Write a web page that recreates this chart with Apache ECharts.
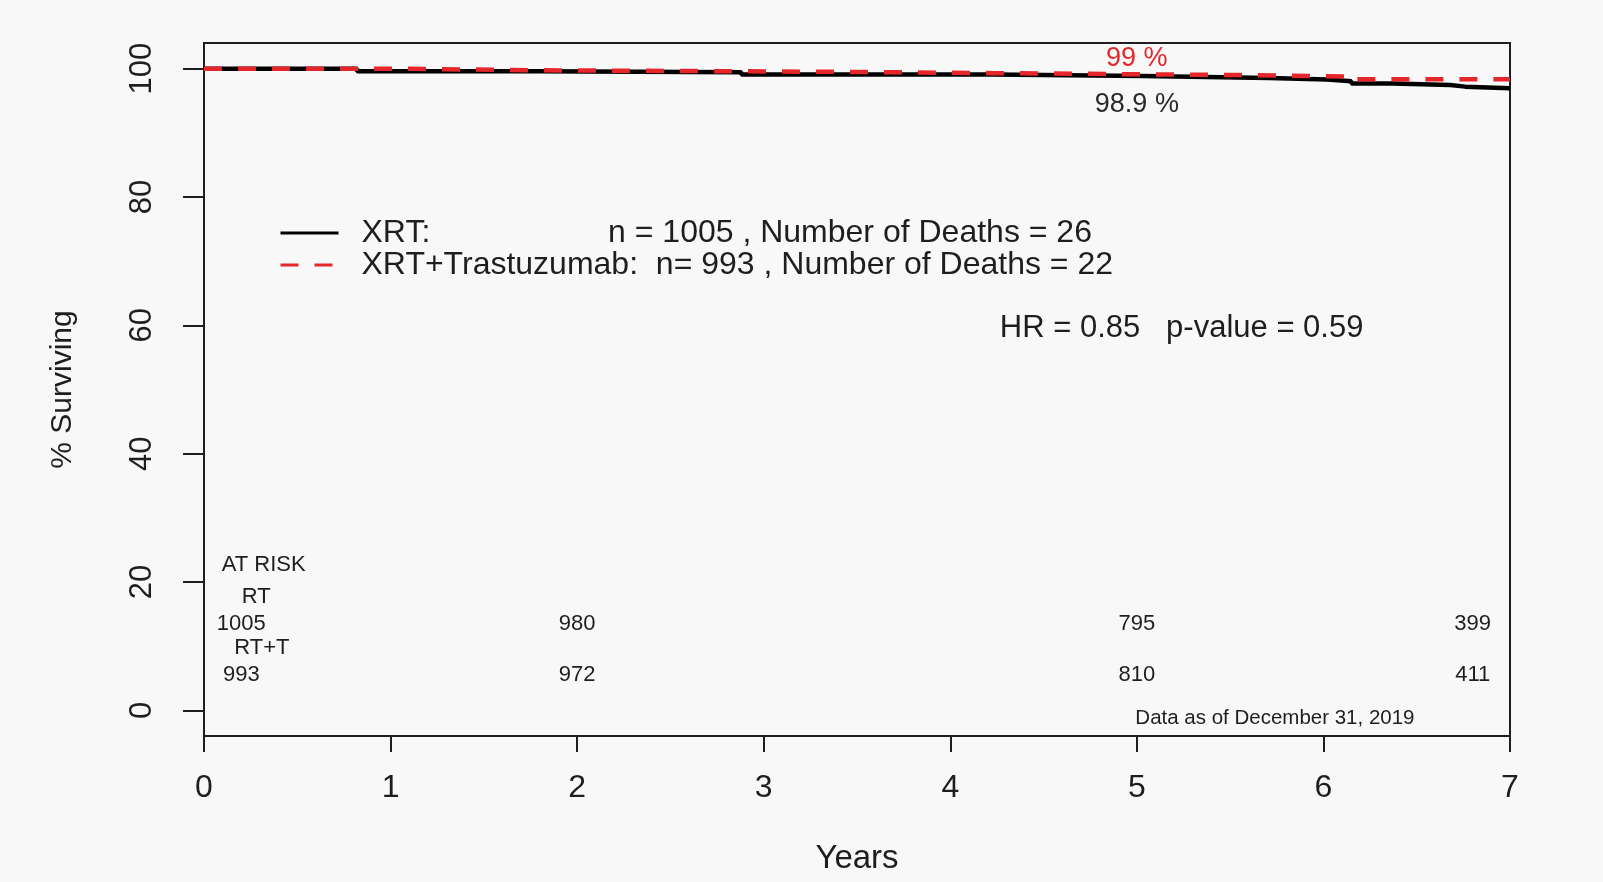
<!DOCTYPE html>
<html>
<head>
<meta charset="utf-8">
<title>Overall survival: XRT vs XRT+Trastuzumab</title>
<script src="https://cdn.jsdelivr.net/npm/echarts@6/dist/echarts.min.js"></script>
<style>
  html, body { margin: 0; padding: 0; background: #f8f8f8; }
  #chart { width: 1603px; height: 882px; }
</style>
</head>
<body>
<div id="chart"></div>
<script>
// Kaplan-Meier step points (years, % surviving)
const xrtYears  = [0, 0.82, 1.79, 2.88, 4.23, 5.03, 5.71, 6.02, 6.15, 6.37, 6.68, 6.76, 7];
const xrtSurv   = [100, 99.6, 99.45, 99.1, 98.85, 98.55, 98.3, 98.05, 97.7, 97.45, 97.2, 96.95, 96.95];
const xrttYears = [0, 1.0, 1.8, 3.45, 4.23, 5.6, 6.15, 7];
const xrttSurv  = [100, 99.75, 99.5, 99.3, 99.0, 98.75, 98.35, 98.35];

// Numbers at risk
const atRiskYears = [0.2, 2, 5, 6.8];
const atRiskRT    = [1005, 980, 795, 399];
const atRiskRTT   = [993, 972, 810, 411];

// Axis ticks
const yearTicks = [0, 1, 2, 3, 4, 5, 6, 7];
const survTicks = [0, 20, 40, 60, 80, 100];

// Legend and annotation text
const seriesNames = ['XRT', 'XRT+Trastuzumab'];
const legendText = [
  'XRT:                    n = 1005 , Number of Deaths = 26',
  'XRT+Trastuzumab:  n= 993 , Number of Deaths = 22'
];
const fiveYearRate = { xrt: 98.9, xrtt: 99 };
const statsText = 'HR = 0.85   p-value = 0.59';
const dataDate = 'Data as of December 31, 2019';

const FONT = '"Liberation Sans", Arial, sans-serif';
const INK = '#1e1e1e';
const RED = '#e5262b';

const pairs = (xs, ys) => xs.map((x, i) => [x, ys[i]]);

function textPoint(x, y, text, opts) {
  return {
    value: [x, y],
    label: Object.assign({
      show: true, position: 'inside', formatter: text,
      fontFamily: FONT, fontSize: 22, color: INK
    }, opts || {})
  };
}

const notes = [];
notes.push(textPoint(0.32, 22.6, 'AT RISK', { fontSize: 22 }));
notes.push(textPoint(0.28, 17.7, 'RT', { fontSize: 22 }));
notes.push(textPoint(0.31, 9.7, 'RT+T', { fontSize: 22 }));
atRiskYears.forEach((yr, i) => {
  notes.push(textPoint(yr, 13.5, String(atRiskRT[i])));
  notes.push(textPoint(yr, 5.5, String(atRiskRTT[i])));
});
notes.push(textPoint(5.74, -1.3, dataDate, { fontSize: 20.5 }));
notes.push(textPoint(5.24, 59.5, statsText, { fontSize: 31 }));
notes.push(textPoint(5, 101.5, fiveYearRate.xrtt + ' %', { fontSize: 27, color: RED }));
notes.push(textPoint(5, 94.4, fiveYearRate.xrt + ' %', { fontSize: 27, color: '#2a2a2a' }));

const chart = echarts.init(document.getElementById('chart'));
chart.setOption({
  backgroundColor: '#f8f8f8',
  animation: false,
  grid: {
    left: 204, right: 93, top: 43, bottom: 146,
    show: true, borderColor: '#1e1e1e', borderWidth: 2, backgroundColor: 'transparent'
  },
  legend: {
    orient: 'vertical',
    left: 274, top: 212,
    itemWidth: 58, itemHeight: 14, itemGap: 0,
    data: seriesNames,
    formatter: name => legendText[seriesNames.indexOf(name)],
    itemStyle: { color: 'transparent', borderWidth: 0 },
    lineStyle: { width: 3 },
    textStyle: { fontFamily: FONT, fontSize: 32, color: INK, lineHeight: 31, padding: [0, 0, 0, 18] }
  },
  xAxis: {
    type: 'value', min: 0, max: 7, interval: 1,
    name: 'Years', nameLocation: 'middle', nameGap: 106,
    nameTextStyle: { fontFamily: FONT, fontSize: 33, color: INK },
    axisLine: { onZero: false, lineStyle: { color: '#1e1e1e', width: 2 } },
    axisTick: { length: 16, lineStyle: { color: '#1e1e1e', width: 2 } },
    axisLabel: { margin: 36, fontFamily: FONT, fontSize: 32, color: INK,
                 formatter: v => yearTicks.includes(v) ? String(v) : '' },
    splitLine: { show: false }
  },
  yAxis: {
    type: 'value', min: -4, max: 104,
    name: '% Surviving', nameLocation: 'middle', nameGap: 126,
    nameTextStyle: { fontFamily: FONT, fontSize: 30, color: INK },
    axisLine: { lineStyle: { color: '#1e1e1e', width: 2 } },
    axisTick: { length: 21, customValues: survTicks, lineStyle: { color: '#1e1e1e', width: 2 } },
    axisLabel: { customValues: survTicks, rotate: 90, margin: 46,
                 fontFamily: FONT, fontSize: 31, color: INK },
    splitLine: { show: false }
  },
  series: [
    {
      name: seriesNames[0], type: 'line', step: 'end', symbol: 'none',
      data: pairs(xrtYears, xrtSurv),
      lineStyle: { color: '#000', width: 4.5 }, itemStyle: { color: '#000' }, z: 3
    },
    {
      name: seriesNames[1], type: 'line', step: 'end', symbol: 'none',
      data: pairs(xrttYears, xrttSurv),
      lineStyle: { color: RED, width: 4.5, type: [18, 16] }, itemStyle: { color: RED }, z: 4
    },
    {
      name: 'notes', type: 'scatter', symbolSize: 0, silent: true,
      itemStyle: { opacity: 1 },
      data: notes, z: 5
    }
  ]
});
</script>
</body>
</html>
